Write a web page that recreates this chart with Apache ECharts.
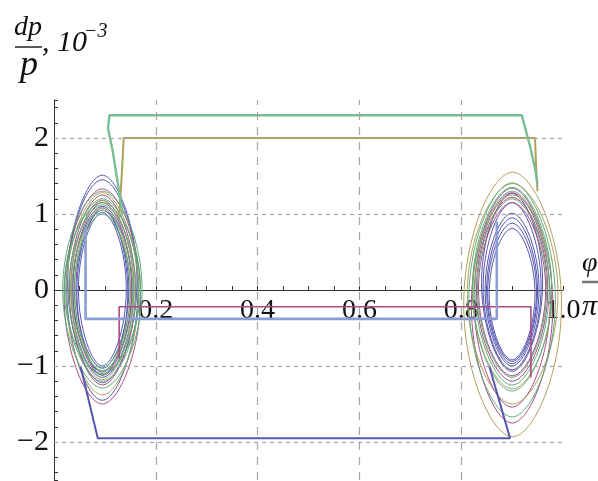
<!DOCTYPE html>
<html>
<head>
<meta charset="utf-8">
<script src="https://cdn.jsdelivr.net/npm/echarts@6/dist/echarts.min.js"></script>
<style>
  html, body { margin: 0; padding: 0; background: #fff; }
  #chart { width: 598px; height: 481px; }
</style>
</head>
<body>
<div id="chart"></div>
<script>
// ---------- axis values ----------
const xLabelValues = [0.2, 0.4, 0.6, 0.8, 1.0];
const yLabelValues = [-2, -1, 0, 1, 2];
const xGridValues = [0.2, 0.4, 0.6, 0.8];
const yGridValues = [-2, -1, 1, 2];

// ---------- closed orbits in the two buckets: [phiLeft, phiRight, dpBottom, dpTop] ----------
const blueLoops = [
  [0.025, 0.165, -1.45, 1.51], [0.027, 0.163, -1.22, 1.45], [0.033, 0.157, -1.15, 1.18],
  [0.037, 0.153, -1.08, 1.10], [0.043, 0.147, -1.03, 1.05], [0.048, 0.142, -1.00, 1.02],
  [0.045, 0.145, -1.12, 1.08],
  [0.840, 0.960, -1.07, 1.27], [0.843, 0.957, -1.05, 1.15], [0.847, 0.953, -1.00, 1.01],
  [0.850, 0.950, -0.97, 0.95], [0.852, 0.948, -0.94, 0.88], [0.855, 0.945, -0.92, 0.81]
];
const magentaLoops = [
  [0.020, 0.170, -1.50, 1.33], [0.030, 0.160, -1.25, 1.25], [0.037, 0.153, -1.12, 1.15],
  [0.820, 0.980, -1.75, 1.34], [0.825, 0.975, -1.54, 1.28], [0.830, 0.970, -1.20, 1.22],
  [0.834, 0.966, -1.13, 1.15]
];
const oliveLoops = [
  [0.024, 0.166, -1.38, 1.28], [0.033, 0.157, -1.18, 1.18], [0.040, 0.150, -1.07, 1.08],
  [0.805, 0.997, -1.93, 1.55], [0.812, 0.990, -1.50, 1.40], [0.823, 0.978, -1.30, 1.25]
];
const greenLoops = [
  [0.017, 0.173, -1.29, 1.30], [0.023, 0.167, -1.20, 1.20], [0.029, 0.161, -1.12, 1.12],
  [0.035, 0.155, -1.06, 1.05], [0.040, 0.150, -1.02, 1.00], [0.020, 0.170, -1.10, 1.15],
  [0.815, 0.985, -1.67, 1.41], [0.822, 0.978, -1.33, 1.35], [0.827, 0.973, -1.25, 1.30],
  [0.832, 0.968, -1.15, 1.20]
];

// ---------- straight runs between the buckets: [phi, dp] ----------
const blueJump = [[0.052, -1.0], [0.086, -1.95], [0.896, -1.95], [0.855, -1.0]];
const magentaJump = [[0.128, -0.9], [0.128, -0.22], [0.937, -0.22], [0.937, -1.15]];
const oliveJump = [[0.128, 0.95], [0.133, 1.5], [0.137, 2.0], [0.945, 2.0], [0.948, 1.5], [0.950, 1.3]];
const greenJump = [[0.135, 1.0], [0.115, 1.84], [0.106, 2.13], [0.109, 2.3], [0.919, 2.3], [0.935, 1.9], [0.945, 1.6], [0.950, 1.4]];
const steelJump = [[0.062, 0.82], [0.062, -0.38], [0.870, -0.38], [0.870, 0.9]];

// ---------- styling ----------
const SERIF = 'Liberation Serif';
const COLORS = {
  blue: '#5656b0',
  magenta: '#a84c84',
  olive: '#b0a05c',
  green: '#5cae7a',
  steel: '#8b9dd3'
};

// draws one closed orbit as four cubic arcs through its extreme points
function orbitRenderer(color) {
  return function (params, api) {
    const l = api.value(0), r = api.value(1), b = api.value(2), t = api.value(3);
    const midDp = (b + t) / 2, midPhi = (l + r) / 2;
    const L = api.coord([l, midDp]);
    const R = api.coord([r, midDp]);
    const T = api.coord([midPhi, t]);
    const B = api.coord([midPhi, b]);
    const k1 = 0.52, k2 = 0.42;
    const xl = L[0], xr = R[0], xm = T[0], ym = L[1], yt = T[1], yb = B[1];
    const d =
      'M' + xr + ' ' + ym +
      ' C' + xr + ' ' + (ym + k1 * (yt - ym)) + ' ' + (xm + k2 * (xr - xm)) + ' ' + yt + ' ' + xm + ' ' + yt +
      ' C' + (xm - k2 * (xm - xl)) + ' ' + yt + ' ' + xl + ' ' + (ym + k1 * (yt - ym)) + ' ' + xl + ' ' + ym +
      ' C' + xl + ' ' + (ym + k1 * (yb - ym)) + ' ' + (xm - k2 * (xm - xl)) + ' ' + yb + ' ' + xm + ' ' + yb +
      ' C' + (xm + k2 * (xr - xm)) + ' ' + yb + ' ' + xr + ' ' + (ym + k1 * (yb - ym)) + ' ' + xr + ' ' + ym + ' Z';
    return {
      type: 'path',
      shape: { pathData: d },
      style: { fill: 'none', stroke: color, lineWidth: 1 }
    };
  };
}

function orbitSeries(name, loops, color) {
  return {
    name: name,
    type: 'custom',
    data: loops,
    encode: { x: [0, 1], y: [2, 3] },
    renderItem: orbitRenderer(color),
    clip: false,
    silent: true,
    z: 3
  };
}

function jumpSeries(name, points, color, width) {
  return {
    name: name,
    type: 'line',
    data: points,
    showSymbol: false,
    symbol: 'none',
    lineStyle: { color: color, width: width },
    silent: true,
    z: 4
  };
}

function near(list, v) {
  return list.find(function (u) { return Math.abs(u - v) < 1e-6; });
}

function label(text, x, y, size, italic) {
  return {
    type: 'text',
    x: x,
    y: y,
    style: {
      text: text,
      fontFamily: SERIF,
      fontSize: size,
      fontStyle: italic ? 'italic' : 'normal',
      fill: '#111',
      align: 'left',
      verticalAlign: 'middle'
    }
  };
}

const gridMarks = []
  .concat(xGridValues.map(function (v) {
    return { xAxis: v, lineStyle: { type: [8, 7] } };
  }))
  .concat(yGridValues.map(function (v) {
    return { yAxis: v, lineStyle: { type: [4, 4] } };
  }));

const GRID_TOP = 100, GRID_BOTTOM = 1, CHART_H = 481;
// the phase axis sits on dp = 0, half way down the plotting area
const X_AXIS_OFFSET = -(CHART_H - GRID_TOP - GRID_BOTTOM) / 2;

const option = {
  animation: false,
  backgroundColor: '#ffffff',
  grid: { left: 54, right: 35, top: GRID_TOP, bottom: GRID_BOTTOM, containLabel: false, outerBoundsMode: 'none' },
  xAxis: {
    type: 'value',
    min: 0,
    max: 1,
    interval: 0.05,
    offset: X_AXIS_OFFSET,
    axisLine: { show: true, onZero: false, lineStyle: { color: '#333', width: 1 } },
    axisTick: { show: true, inside: true, length: 4, lineStyle: { color: '#333' } },
    axisLabel: {
      margin: 7,
      color: '#111',
      fontFamily: SERIF,
      fontSize: 28,
      formatter: function (v) {
        const m = near(xLabelValues, v);
        return m === undefined ? '' : m.toFixed(1);
      }
    },
    splitLine: { show: false }
  },
  yAxis: {
    type: 'value',
    min: -2.5,
    max: 2.5,
    splitNumber: 25,
    minInterval: 0.2,
    maxInterval: 0.2,
    axisLine: { show: true, onZero: false, lineStyle: { color: '#333', width: 1 } },
    axisTick: { show: true, inside: true, length: 4, lineStyle: { color: '#333' } },
    axisLabel: {
      margin: 5,
      color: '#111',
      fontFamily: SERIF,
      fontSize: 30,
      formatter: function (v) {
        const m = near(yLabelValues, v);
        if (m === undefined) return '';
        return m < 0 ? '\u2212' + Math.abs(m) : String(m);
      }
    },
    splitLine: { show: false }
  },
  graphic: [
    label('dp', 14, 28, 28, true),
    { type: 'line', shape: { x1: 15, y1: 47, x2: 42, y2: 47 }, style: { stroke: '#222', lineWidth: 1.5 } },
    label('p', 20, 66, 36, true),
    label(', 10', 42, 43, 30, true),
    label('\u22123', 84, 32, 20, true),
    label('\u03c6', 582, 264, 28, true),
    { type: 'line', shape: { x1: 582, y1: 282, x2: 598, y2: 282 }, style: { stroke: '#777', lineWidth: 2.5 } },
    label('\u03c0', 582, 307, 30, true)
  ],
  series: [
    {
      name: 'grid',
      type: 'line',
      data: [],
      silent: true,
      z: 1,
      markLine: {
        silent: true,
        animation: false,
        symbol: ['none', 'none'],
        label: { show: false },
        lineStyle: { color: '#a6a6a6', width: 1.2 },
        data: gridMarks
      }
    },
    orbitSeries('blue orbits', blueLoops, COLORS.blue),
    jumpSeries('blue run', blueJump, COLORS.blue, 2),
    orbitSeries('magenta orbits', magentaLoops, COLORS.magenta),
    jumpSeries('magenta run', magentaJump, COLORS.magenta, 1.6),
    orbitSeries('olive orbits', oliveLoops, COLORS.olive),
    jumpSeries('olive run', oliveJump, COLORS.olive, 2),
    orbitSeries('green orbits', greenLoops, COLORS.green),
    jumpSeries('green run', greenJump, '#79bd92', 2.4),
    jumpSeries('steel run', steelJump, COLORS.steel, 2.6)
  ]
};

const chart = echarts.init(document.getElementById('chart'), null, { renderer: 'canvas' });
chart.setOption(option);
</script>
</body>
</html>
